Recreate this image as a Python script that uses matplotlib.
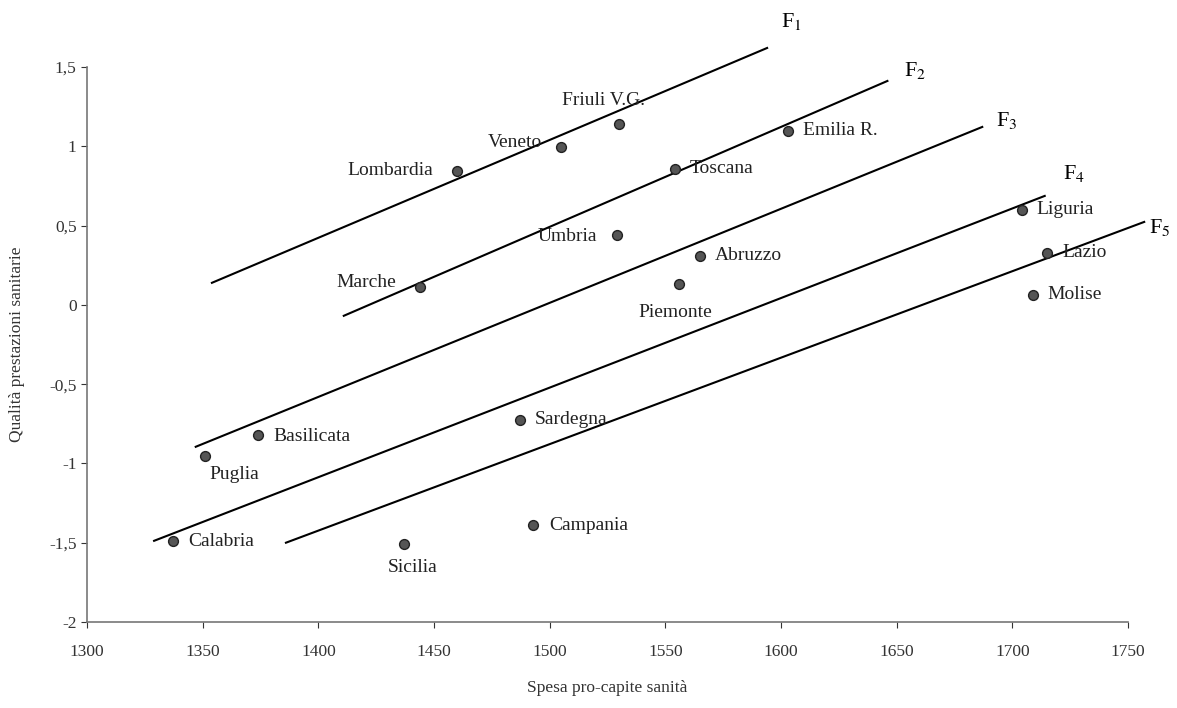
import matplotlib
matplotlib.use("Agg")
import matplotlib.pyplot as plt

regions = ["Lombardia", "Veneto", "Friuli V.G.", "Emilia R.", "Toscana", "Umbria",
           "Marche", "Abruzzo", "Piemonte", "Liguria", "Lazio", "Molise",
           "Basilicata", "Puglia", "Sardegna", "Calabria", "Sicilia", "Campania"]
spesa = [1460, 1505, 1530, 1603, 1554, 1529,
         1444, 1565, 1556, 1704, 1715, 1709,
         1374, 1351, 1487, 1337, 1437, 1493]
qualita = [0.845, 0.996, 1.14, 1.097, 0.857, 0.44,
           0.113, 0.31, 0.13, 0.60, 0.33, 0.063,
           -0.82, -0.95, -0.725, -1.49, -1.51, -1.39]

frontier_names = ["F$_1$", "F$_2$", "F$_3$", "F$_4$", "F$_5$"]
frontier_x = [(1354, 1594), (1411, 1646), (1347, 1687), (1329, 1714), (1386, 1757)]
frontier_y = [(0.139, 1.62), (-0.069, 1.412), (-0.895, 1.122), (-1.488, 0.687), (-1.50, 0.523)]
frontier_label_xy = [(1600, 1.79), (1653, 1.48), (1693, 1.16), (1722, 0.83), (1759, 0.49)]

xticks = [1300, 1350, 1400, 1450, 1500, 1550, 1600, 1650, 1700, 1750]
yticks = [-2, -1.5, -1, -0.5, 0, 0.5, 1, 1.5]
ytick_labels = ["-2", "-1,5", "-1", "-0,5", "0", "0,5", "1", "1,5"]

# label offsets in points and alignment
label_style = {
    "Lombardia": ((-17, 0), "right", "center"),
    "Veneto": ((-14, 3), "right", "center"),
    "Friuli V.G.": ((-11, 17), "center", "center"),
    "Emilia R.": ((11, 0), "left", "center"),
    "Toscana": ((11, 0), "left", "center"),
    "Umbria": ((-14, -1), "right", "center"),
    "Marche": ((-17, 3), "right", "center"),
    "Abruzzo": ((11, 0), "left", "center"),
    "Piemonte": ((-3, -20), "center", "center"),
    "Liguria": ((11, 0), "left", "center"),
    "Lazio": ((11, 0), "left", "center"),
    "Molise": ((10, 0), "left", "center"),
    "Basilicata": ((11, -1), "left", "center"),
    "Puglia": ((3, -14), "left", "center"),
    "Sardegna": ((11, 0), "left", "center"),
    "Calabria": ((11, 0), "left", "center"),
    "Sicilia": ((6, -17), "center", "center"),
    "Campania": ((11, 0), "left", "center"),
}

plt.rcParams['font.family'] = ['Liberation Serif', 'DejaVu Serif']
plt.rcParams['mathtext.fontset'] = 'stix'
fig = plt.figure(figsize=(11.77, 7.08), dpi=100)
ax = fig.add_axes([87/1177, 1-622/708, (1128-87)/1177, (622-67)/708])

for (xs, ys), name, (lx, ly) in zip(zip(frontier_x, frontier_y), frontier_names, frontier_label_xy):
    ax.plot(xs, ys, color='black', lw=1.5, clip_on=False)
    ax.text(lx, ly, name, fontsize=16, ha='left', va='center', clip_on=False)

ax.scatter(spesa, qualita, s=50, color='#555555', edgecolors='#222222', linewidths=1.0,
           zorder=3, clip_on=False)

for r, x, y in zip(regions, spesa, qualita):
    off, ha, va = label_style[r]
    ax.annotate(r, (x, y), xytext=off, textcoords='offset points', ha=ha, va=va,
                fontsize=14, color='#222222', annotation_clip=False)

ax.set_xlim(1300, 1750)
ax.set_ylim(-2, 1.5)
ax.set_xticks(xticks)
ax.set_xticklabels([str(t) for t in xticks])
ax.set_yticks(yticks)
ax.set_yticklabels(ytick_labels)
ax.tick_params(axis='both', labelsize=12.5, colors='#333333', length=4, width=0.8, direction='out')
ax.tick_params(axis='x', pad=12)
for s in ['top', 'right']:
    ax.spines[s].set_visible(False)
for s in ['left', 'bottom']:
    ax.spines[s].set_color('#777777')
    ax.spines[s].set_linewidth(1.2)

ax.set_xlabel("Spesa pro-capite sanità", fontsize=12.5, color='#333333', labelpad=14)
ax.set_ylabel("Qualità prestazioni sanitarie", fontsize=12.5, color='#333333', labelpad=17)

fig.savefig("out.png", dpi=100)
